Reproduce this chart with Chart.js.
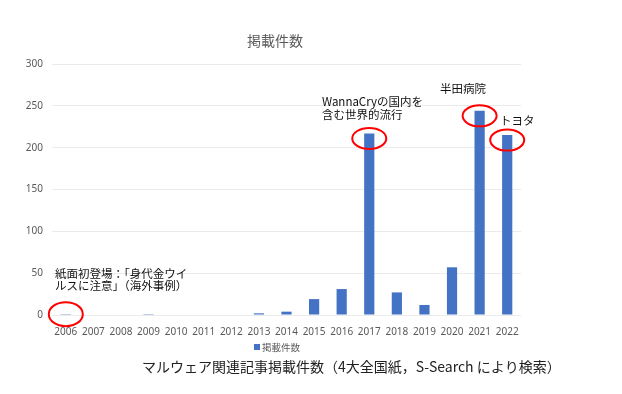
<!DOCTYPE html>
<html>
<head>
<meta charset="utf-8">
<script src="https://cdn.jsdelivr.net/npm/chart.js@4/dist/chart.umd.min.js"></script>
<style>
  body { margin: 0; background: #fff; }
  #wrap { width: 622px; height: 394px; }
</style>
</head>
<body>
<div id="wrap"><canvas id="chart" width="622" height="394"></canvas></div>
<script>
const years = ['2006', '2007', '2008', '2009', '2010', '2011', '2012', '2013', '2014',
    '2015', '2016', '2017', '2018', '2019', '2020', '2021', '2022'];
const counts = [1, 0, 0, 1, 0, 0, 0, 2, 4, 19, 31, 217, 27, 12, 57, 244, 215];
const yTicks = [0, 50, 100, 150, 200, 250, 300];
const seriesName = '掲載件数';
const chartTitle = '掲載件数';
const caption = 'マルウェア関連記事掲載件数（4大全国紙，S-Search により検索）';
const circled = ['2006', '2017', '2021', '2022'];

const FONT = "'Noto Sans CJK JP', 'Noto Sans', sans-serif";
const TICK_FONT = "'Noto Sans', 'Open Sans', sans-serif";

// title, legend, caption, notes and red circles
const extras = {
    id: 'extras',
    afterDraw(chart) {
        const ctx = chart.ctx;
        const x = chart.scales.x, y = chart.scales.y;
        ctx.save();

        ctx.fillStyle = '#595959';
        ctx.font = '14px ' + FONT;
        ctx.textAlign = 'center';
        ctx.textBaseline = 'middle';
        ctx.fillText(chartTitle, 275, 41);

        // legend
        ctx.fillStyle = '#4472C4';
        ctx.fillRect(254, 344, 6, 6);
        ctx.fillStyle = '#595959';
        ctx.font = '9.5px ' + FONT;
        ctx.textAlign = 'left';
        ctx.fillText(seriesName, 262, 347);

        // caption
        ctx.fillStyle = '#222';
        ctx.font = '14px ' + FONT;
        ctx.fillText(caption, 142, 367);

        // notes
        ctx.font = '11.5px ' + FONT;
        ctx.fillStyle = '#111';
        ctx.fillText('紙面初登場：「身代金ウイ', 55, 274);
        ctx.fillText('ルスに注意」（海外事例）', 55, 286);
        ctx.fillText('WannaCryの国内を', 322, 102);
        ctx.fillText('含む世界的流行', 322, 115);
        ctx.fillText('半田病院', 440, 89);
        ctx.fillText('トヨタ', 500, 121);

        // red ellipses at the top of the bars
        ctx.strokeStyle = '#FF0000';
        ctx.lineWidth = 2;
        circled.forEach(yr => {
            const i = years.indexOf(yr);
            const cx = x.getPixelForValue(i);
            const cy = y.getPixelForValue(counts[i]) + (counts[i] < 5 ? 0 : 5);
            const ry = counts[i] < 5 ? 12 : 10.5;
            ctx.beginPath();
            ctx.ellipse(cx, cy, 17, ry, 0, 0, Math.PI * 2);
            ctx.stroke();
        });
        ctx.restore();
    }
};

new Chart(document.getElementById('chart'), {
    type: 'bar',
    data: {
        labels: years,
        datasets: [{
            label: seriesName,
            data: counts,
            backgroundColor: '#4472C4',
            barPercentage: 0.37,
            categoryPercentage: 1.0
        }]
    },
    options: {
        responsive: false,
        animation: false,
        devicePixelRatio: 1,
        layout: { padding: { left: 0, right: 101, top: 64, bottom: 59 } },
        plugins: {
            legend: { display: false },
            title: { display: false },
            tooltip: { enabled: false }
        },
        scales: {
            x: {
                grid: { display: false },
                border: { display: false },
                ticks: {
                    color: '#595959',
                    font: { family: TICK_FONT, size: 10 },
                    padding: 3,
                    maxRotation: 0,
                    minRotation: 0,
                    autoSkip: false
                },
                afterFit: s => { s.height = 20; }
            },
            y: {
                min: 0,
                max: 300,
                afterBuildTicks: s => { s.ticks = yTicks.map(v => ({ value: v })); },
                grid: { color: '#ebebeb', drawTicks: false },
                border: { display: false },
                ticks: {
                    color: '#595959',
                    font: { family: TICK_FONT, size: 10 },
                    padding: 9
                },
                afterFit: s => { s.width = 52; }
            }
        }
    },
    plugins: [extras]
});
</script>
</body>
</html>
